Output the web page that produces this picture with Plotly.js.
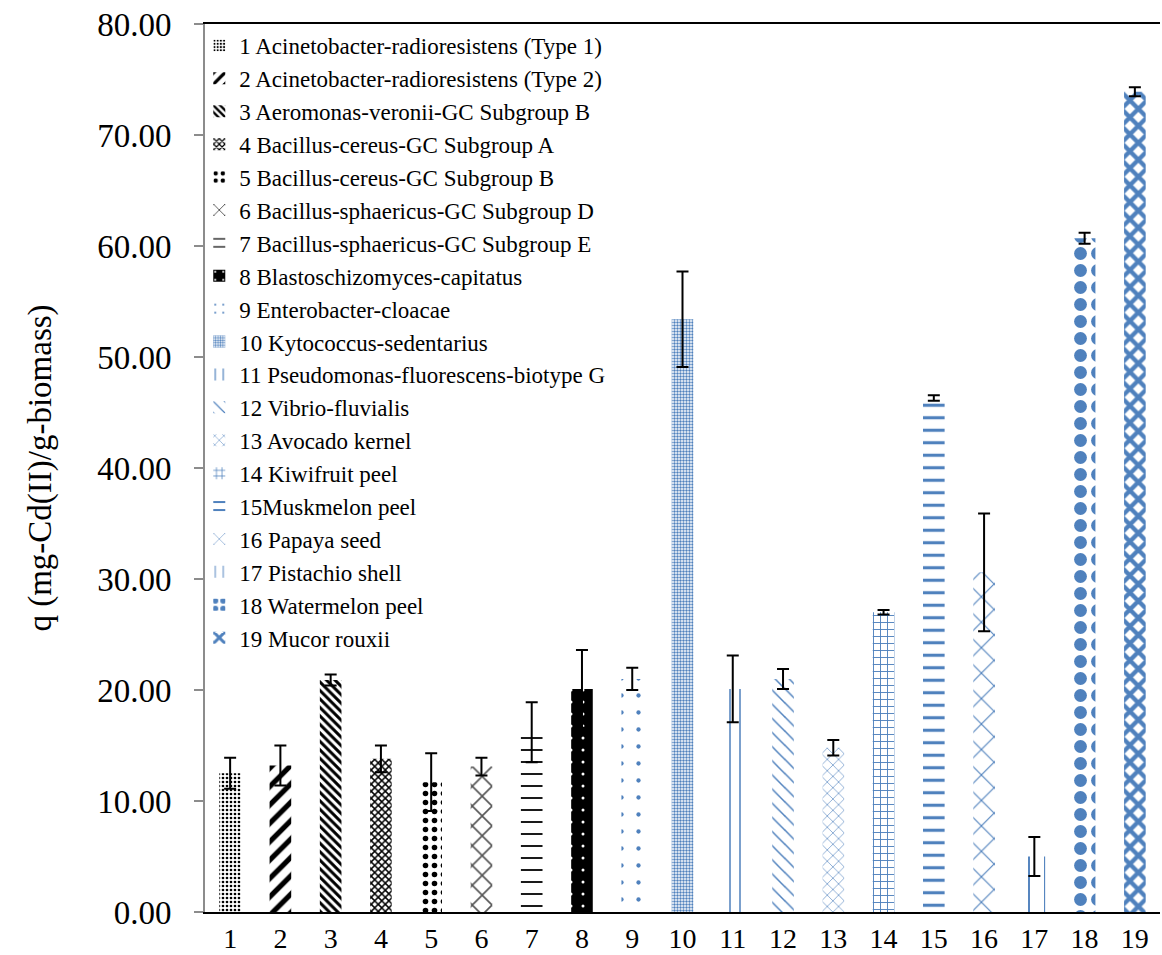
<!DOCTYPE html>
<html>
<head>
<meta charset="utf-8">
<script src="https://cdn.plot.ly/plotly-3.0.1.min.js"></script>
<style>html,body{margin:0;padding:0;background:#fff;}#chart{width:1162px;height:955px;}</style>
</head>
<body>
<div id="chart"></div>
<script>
const positions = [1,2,3,4,5,6,7,8,9,10,11,12,13,14,15,16,17,18,19];
const tickLabels = ['1','2','3','4','5','6','7','8','9','10','11','12','13','14','15','16','17','18','19'];
const seriesNames = [
  '1 Acinetobacter-radioresistens (Type 1)',
  '2 Acinetobacter-radioresistens (Type 2)',
  '3 Aeromonas-veronii-GC Subgroup B',
  '4 Bacillus-cereus-GC Subgroup A',
  '5 Bacillus-cereus-GC Subgroup B',
  '6 Bacillus-sphaericus-GC Subgroup D',
  '7 Bacillus-sphaericus-GC Subgroup E',
  '8 Blastoschizomyces-capitatus',
  '9 Enterobacter-cloacae',
  '10 Kytococcus-sedentarius',
  '11 Pseudomonas-fluorescens-biotype G',
  '12 Vibrio-fluvialis',
  '13 Avocado kernel',
  '14 Kiwifruit peel',
  '15Muskmelon peel',
  '16 Papaya seed',
  '17 Pistachio shell',
  '18 Watermelon peel',
  '19 Mucor rouxii'
];
const qValues = [12.5, 13.2, 20.9, 13.8, 11.7, 13.1, 16.2, 20.1, 21.0, 53.4, 20.1, 21.0, 14.8, 27.0, 46.3, 30.6, 5.0, 60.7, 73.9];
const qErrors = [1.4, 1.8, 0.5, 1.2, 2.6, 0.8, 2.7, 3.5, 1.0, 4.3, 3.0, 0.9, 0.7, 0.2, 0.25, 5.3, 1.75, 0.5, 0.4];

const BLUE = '#4F81BD';
const SERIF = 'Liberation Serif';
const styles = [
  {shape: '.', fg: '#000', bg: '#fff', size: 4, sol: 0.35},
  {shape: '/', fg: '#000', bg: '#fff', size: 13, sol: 0.4},
  {shape: '\\', fg: '#000', bg: '#fff', size: 6, sol: 0.5},
  {shape: 'x', fg: '#000', bg: '#fff', size: 5, sol: 0.5},
  {shape: '.', fg: '#000', bg: '#fff', size: 9, sol: 0.3},
  {shape: 'x', fg: '#555', bg: '#fff', size: 14, sol: 0.22},
  {shape: '-', fg: '#000', bg: '#fff', size: 12, sol: 0.15},
  {shape: '.', fg: '#fff', bg: '#000', size: 12, sol: 0.05},
  {shape: '.', fg: BLUE, bg: '#fff', size: 17, sol: 0.05},
  {shape: '.', fg: BLUE, bg: '#fff', size: 3, sol: 0.5},
  {shape: '|', fg: BLUE, bg: '#fff', size: 10, sol: 0.15},
  {shape: '\\', fg: BLUE, bg: '#fff', size: 10, sol: 0.15},
  {shape: 'x', fg: BLUE, bg: '#fff', size: 8, sol: 0.15},
  {shape: '+', fg: BLUE, bg: '#fff', size: 7, sol: 0.25},
  {shape: '-', fg: BLUE, bg: '#fff', size: 12.5, sol: 0.25},
  {shape: 'x', fg: BLUE, bg: '#fff', size: 18, sol: 0.12},
  {shape: '|', fg: BLUE, bg: '#fff', size: 16, sol: 0.12},
  {shape: '.', fg: BLUE, bg: '#fff', size: 17, sol: 0.45},
  {shape: 'x', fg: BLUE, bg: '#fff', size: 12, sol: 0.6}
];

const traces = positions.map((p, i) => ({
  type: 'bar',
  x: [p],
  y: [qValues[i]],
  name: seriesNames[i],
  width: 0.43,
  marker: {
    color: styles[i].bg,
    line: {width: 0},
    pattern: {
      shape: styles[i].shape,
      fgcolor: styles[i].fg,
      bgcolor: styles[i].bg,
      size: styles[i].size,
      solidity: styles[i].sol,
      fillmode: 'replace'
    }
  },
  error_y: {type: 'data', array: [qErrors[i]], visible: true, color: '#000', thickness: 2, width: 6}
}));

const layout = {
  width: 1162, height: 955,
  margin: {l: 205, r: 2, t: 24, b: 43},
  paper_bgcolor: '#fff', plot_bgcolor: '#fff',
  barmode: 'overlay',
  font: {family: SERIF, color: '#000'},
  showlegend: true,
  legend: {
    x: -0.006, y: 1, xanchor: 'left', yanchor: 'top',
    bgcolor: 'rgba(0,0,0,0)', borderwidth: 0,
    font: {size: 23, family: SERIF, color: '#000'},
    itemclick: false
  },
  xaxis: {
    range: [0.5, 19.5],
    tickmode: 'array', tickvals: positions, ticktext: tickLabels,
    showline: true, linecolor: '#000', linewidth: 2, mirror: true,
    ticks: '', showgrid: false, zeroline: false,
    tickfont: {size: 28, family: SERIF}
  },
  yaxis: {
    range: [0, 80], dtick: 10, tickformat: '.2f',
    showline: true, linecolor: '#8c8c8c', linewidth: 2,
    ticks: 'outside', ticklen: 9, tickwidth: 1.5, tickcolor: '#8c8c8c',
    ticklabelstandoff: 16,
    showgrid: false, zeroline: false,
    tickfont: {size: 33, family: SERIF},
    title: {text: 'q (mg-Cd(II)/g-biomass)', font: {size: 33, family: SERIF}, standoff: 36}
  }
};

Plotly.newPlot('chart', traces, layout, {displayModeBar: false, staticPlot: true});
</script>
</body>
</html>
